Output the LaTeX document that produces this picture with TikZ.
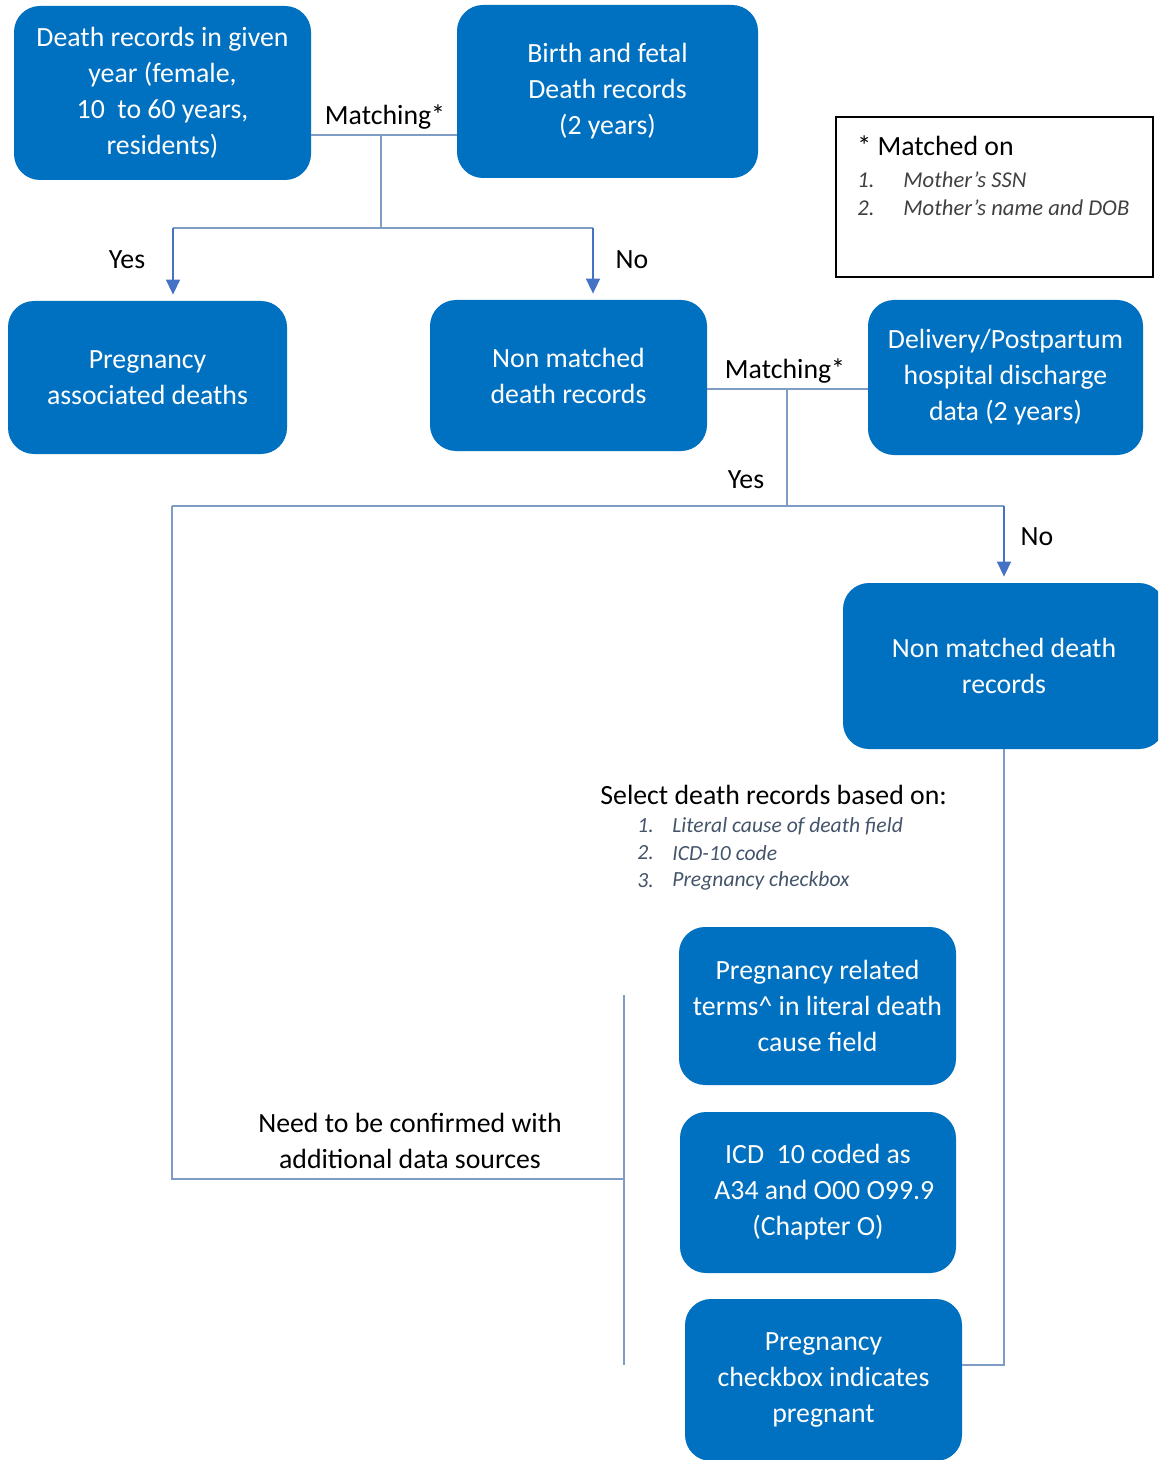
\documentclass[tikz,border=0pt]{standalone}
\usepackage{fontspec}
\setmainfont{Carlito}
\usetikzlibrary{positioning,arrows.meta}
\definecolor{boxblue}{RGB}{0,112,192}
\definecolor{linkgrey}{RGB}{127,157,196}
\definecolor{arrowblue}{RGB}{68,114,196}
\definecolor{listslate}{RGB}{68,84,106}
\definecolor{keygrey}{RGB}{64,64,64}

\begin{document}
\begin{tikzpicture}[x=0.5pt,y=-0.5pt]
        \tikzstyle{record}=[rectangle,rounded corners=13pt,fill=boxblue,text=white,align=center,inner sep=0pt,font=\fontsize{13.9}{18}\selectfont]
        \tikzstyle{tag}=[inner sep=0pt,align=center,font=\fontsize{13.9}{18}\selectfont]
        \tikzstyle{item}=[inner sep=0pt,anchor=west,font=\fontsize{10.8}{13}\selectfont\itshape]
        \tikzstyle{keyitem}=[item,keygrey,font=\fontsize{11.3}{13}\selectfont\itshape]
        \tikzstyle{link}=[linkgrey,line width=0.6pt]
        \tikzstyle{arr}=[arrowblue,line width=0.8pt,-{Triangle[width=7pt,length=7.5pt]},shorten >=3pt]
        \useasboundingbox (0,0) rectangle (1158,1460);
        \clip (0,0) rectangle (1158,1460);
        % Record boxes
        \node (deaths)[record,minimum width=148.5pt,minimum height=87pt] at (162.5,93)
            {Death records in given\\year (female,\\10\ \ to 60 years,\\residents)};
        \node (births)[record,minimum width=150.5pt,minimum height=86.5pt] at (607.5,91.5)
            {Birth and fetal\\Death records\\(2 years)};
        \node (assoc)[record,minimum width=139.5pt,minimum height=76.5pt] at (147.5,377.5)
            {Pregnancy\\associated deaths};
        \node (nomatch)[record,minimum width=138.5pt,minimum height=75.5pt] at (568.5,375.5)
            {Non matched\\death records};
        \node (discharge)[record,minimum width=137.5pt,minimum height=77.5pt] at (1005.5,377.5)
            {Delivery/Postpartum\\hospital discharge\\data (2 years)};
        \node (rest)[record,minimum width=161pt,minimum height=83pt] at (1004,666)
            {Non matched death\\records};
        \node (terms)[record,minimum width=138.5pt,minimum height=79pt] at (817.5,1006)
            {Pregnancy related\\terms\^{} in literal death\\cause field};
        \node (icd)[record,minimum width=138pt,minimum height=80.5pt] at (818,1192.5)
            {ICD\ \ 10 coded as\\\ \ A34 and O00 O99.9\\(Chapter O)};
        \node (checkbox)[record,minimum width=138.5pt,minimum height=81pt] at (823.5,1380)
            {Pregnancy\\checkbox indicates\\pregnant};
        % Key for the matching
        \node (key)[draw,line width=0.7pt,minimum width=158.5pt,minimum height=80pt] at (994.5,197) {};
        \node (keyhead)[tag,anchor=west] at (857,146) {* Matched on};
        \node (k1)[keyitem] at (857,180) {1.};
        \node (k1t)[keyitem] at (903,180) {Mother’s SSN};
        \node (k2)[keyitem] at (857,208) {2.};
        \node (k2t)[keyitem] at (903,208) {Mother’s name and DOB};
        % First matching step
        \coordinate (m1) at (381,135);
        \coordinate (s1) at (381,228);
        \coordinate (y1) at (173,228);
        \coordinate (n1) at (593,228);
        \draw[link] (deaths.east |- m1) -- (births.west |- m1);
        \draw[link] (m1) -- (s1);
        \draw[link] (y1) -- (n1);
        \draw[arr] (y1) -- (assoc.north -| y1);
        \draw[arr] (n1) -- (nomatch.north -| n1);
        \node (match1)[tag] at (385,117) {Matching*};
        \node (yes1)[tag] at (127,260) {Yes};
        \node (no1)[tag] at (632,260) {No};
        % Second matching step
        \coordinate (m2) at (787,389);
        \coordinate (s2) at (787,506);
        \coordinate (y2) at (172,506);
        \coordinate (n2) at (1004,506);
        \draw[link] (nomatch.east |- m2) -- (discharge.west |- m2);
        \draw[link] (m2) -- (s2);
        \draw[link] (y2) -- (n2);
        \draw[arr] (n2) -- (rest.north -| n2);
        \node (match2)[tag] at (785,371) {Matching*};
        \node (yes2)[tag] at (746,480) {Yes};
        \node (no2)[tag] at (1037,537) {No};
        % Selection criteria
        \node (select)[tag,anchor=west] at (600,795) {Select death records based on:};
        \node (s1n)[item,listslate] at (637,826) {1.};
        \node (s1t)[item,listslate] at (672,826) {Literal cause of death field};
        \node (s2n)[item,listslate] at (637,853) {2.};
        \node (s2t)[item,listslate] at (672,853) {ICD-10 code};
        \node (s3n)[item,listslate] at (637,881) {3.};
        \node (s3t)[item,listslate] at (672,881) {Pregnancy checkbox};
        % Bracket round the selected records
        \coordinate (c1) at (172,1179);
        \coordinate (c2) at (624,1179);
        \coordinate (b1) at (624,995);
        \coordinate (b2) at (624,1365);
        \coordinate (r1) at (1006,1365);
        \draw[link] (y2) -- (c1) -- (c2);
        \draw[link] (b1) -- (b2);
        \draw[link] (rest.south) -- (rest.south |- r1) -- (checkbox.east |- r1);
        \node (confirm)[tag] at (410,1141) {Need to be confirmed with\\additional data sources};
    \end{tikzpicture}
\end{document}
